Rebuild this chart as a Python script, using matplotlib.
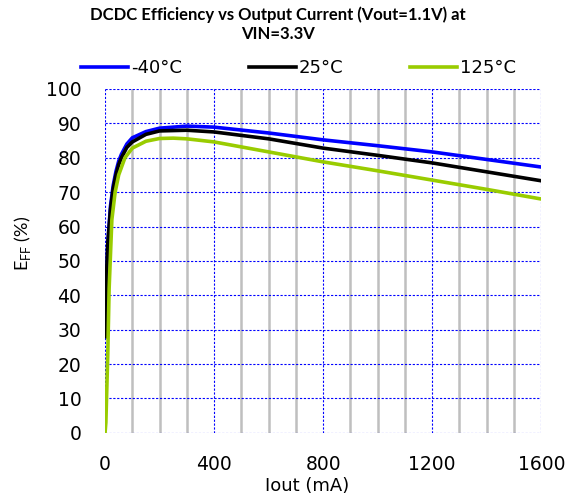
import matplotlib
matplotlib.use("Agg")
import matplotlib.pyplot as plt
from matplotlib.ticker import MultipleLocator

plt.rcParams['font.family'] = ['DejaVu Sans']
plt.rcParams['mathtext.fontset'] = 'custom'
plt.rcParams['mathtext.rm'] = 'Lato'

# --- data ---
iout_blue = [1, 5, 10, 20, 30, 40, 50, 60, 80, 100, 150, 200, 300, 400, 600, 800, 1000, 1200, 1400, 1600]
eff_blue = [28, 45, 55, 66, 72, 76, 79, 81, 84, 85.8, 87.6, 88.6, 89.2, 88.9, 87.2, 85.2, 83.5, 81.7, 79.5, 77.3]

iout_black = [1, 5, 10, 20, 30, 40, 50, 60, 80, 100, 150, 200, 300, 400, 600, 800, 1000, 1200, 1400, 1600]
eff_black = [28, 45, 55, 65, 71, 75, 78, 80, 83, 84.6, 86.8, 87.8, 88.0, 87.5, 85.5, 82.8, 80.7, 78.5, 75.9, 73.3]

iout_green = [0, 3, 10, 15, 25, 37, 50, 73, 100, 150, 200, 250, 300, 400, 600, 800, 1000, 1200, 1400, 1600]
eff_green = [0, 3, 23, 42, 62, 70, 75, 80, 82.8, 84.8, 85.6, 85.7, 85.5, 84.6, 81.7, 78.8, 76.2, 73.5, 70.8, 68.0]

labels = ["-40°C", "25°C", "125°C"]
colors = ["#0000FF", "#000000", "#99CC00"]

fig = plt.figure(figsize=(5.74, 4.97), dpi=100)
ax = fig.add_axes([0.183, 0.129, 0.760, 0.692])

ax.plot(iout_blue, eff_blue, color=colors[0], lw=2.6, label=labels[0], zorder=3)
ax.plot(iout_black, eff_black, color=colors[1], lw=2.6, label=labels[1], zorder=4)
ax.plot(iout_green, eff_green, color=colors[2], lw=2.6, label=labels[2], zorder=5)

ax.set_xlim(0, 1600)
ax.set_ylim(0, 100)
ax.xaxis.set_major_locator(MultipleLocator(400))
ax.xaxis.set_minor_locator(MultipleLocator(100))
ax.yaxis.set_major_locator(MultipleLocator(10))

ax.grid(True, which='major', color='#0000FF', ls=(0, (2, 1.5)), lw=0.8)
ax.grid(True, which='minor', axis='x', color='#BFBFBF', ls='-', lw=1.8)
ax.set_axisbelow(True)
for s in ax.spines.values():
    s.set_visible(False)
ax.tick_params(which='both', length=0, labelsize=13.5)
ax.tick_params(axis='x', pad=16)
ax.tick_params(axis='y', pad=17)

ax.set_xlabel("Iout (mA)", fontsize=13)
ax.xaxis.set_label_coords(0.463, -0.127)
ax.set_ylabel(r"E$_{\mathrm{FF}}$ (%)", fontsize=13, family='Lato')
ax.yaxis.set_label_coords(-0.165, 0.552)

fig.text(0.4835, 0.987, "DCDC Efficiency vs Output Current (Vout=1.1V) at\nVIN=3.3V",
         ha='center', va='top', fontsize=12, fontweight='bold', family='Lato',
         linespacing=1.2)

fig.legend(loc='center', bbox_to_anchor=(0.52, 0.863), ncol=3, frameon=False,
           fontsize=13, handlelength=2.6, handletextpad=0.17, columnspacing=3.7)

fig.savefig("out.png", dpi=100)
